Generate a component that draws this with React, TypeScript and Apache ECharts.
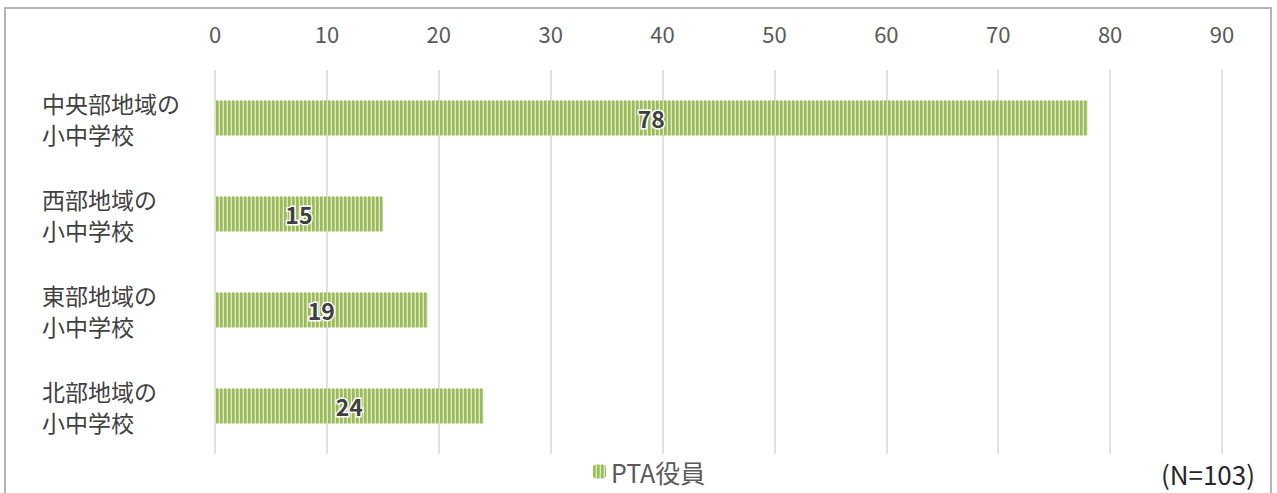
import React, { useEffect, useRef } from "react";
import * as echarts from "echarts";

const categories = ["中央部地域の\n小中学校", "西部地域の\n小中学校", "東部地域の\n小中学校", "北部地域の\n小中学校"];
const seriesName = "PTA役員";
const values = [78, 15, 19, 24];
const xTicks = { min: 0, max: 90, interval: 10 };
const noteText = "(N=103)";

const FONT = "'Noto Sans CJK JP', 'Noto Sans', sans-serif";

function makePattern() {
  const c = document.createElement("canvas");
  c.width = 4;
  c.height = 4;
  const ctx = c.getContext("2d")!;
  ctx.fillStyle = "#dde8c6";
  ctx.fillRect(0, 0, 4, 4);
  ctx.fillStyle = "#9bbb59";
  ctx.fillRect(0, 0, 2, 4);
  ctx.fillStyle = "#b3cc80";
  ctx.fillRect(2, 0, 1, 4);
  return { image: c, repeat: "repeat" as const, imageWidth: 4, imageHeight: 4 };
}

export default function App() {
  const ref = useRef<HTMLDivElement>(null);
  useEffect(() => {
    if (!ref.current) return;
    const chart = echarts.init(ref.current, null, { renderer: "svg" });
    const pattern = makePattern();
    chart.setOption({
      animation: false,
      textStyle: { fontFamily: FONT },
      grid: { left: 215, right: 55, top: 70, bottom: 39, containLabel: false },
      xAxis: {
        type: "value",
        position: "top",
        min: xTicks.min,
        max: xTicks.max,
        interval: xTicks.interval,
        axisLine: { show: false },
        axisTick: { show: false },
        axisLabel: { color: "#595959", fontSize: 22, margin: 26, fontFamily: FONT },
        splitLine: { show: true, lineStyle: { color: "#d9d9d9", width: 1.5 } },
      },
      yAxis: {
        type: "category",
        inverse: true,
        data: categories,
        axisLine: { show: false },
        axisTick: { show: false },
        axisLabel: {
          color: "#404040",
          fontSize: 23,
          lineHeight: 31,
          align: "left",
          margin: 173,
          fontFamily: FONT,
        },
      },
      legend: {
        bottom: 4,
        left: 588,
        itemWidth: 13,
        itemHeight: 14,
        itemGap: 5,
        textStyle: { color: "#595959", fontSize: 25, fontFamily: FONT },
        data: [seriesName],
      },
      series: [
        {
          name: seriesName,
          type: "bar",
          data: values,
          barWidth: 35,
          itemStyle: { color: pattern },
          label: {
            show: true,
            position: "inside",
            color: "#404040",
            fontSize: 23,
            fontWeight: "bold",
            textBorderColor: "#ffffff",
            textBorderWidth: 3,
            fontFamily: FONT,
          },
        },
      ],
      graphic: [
        {
          type: "rect",
          shape: { x: 5, y: 8, width: 1266, height: 500 },
          style: { fill: "none", stroke: "#b4b4b4", lineWidth: 2 },
          silent: true,
        },
        {
          type: "text",
          right: 22,
          top: 460,
          style: { text: noteText, fill: "#262626", fontSize: 26, fontFamily: FONT },
        },
      ],
    });
    return () => chart.dispose();
  }, []);
  return (
    <div
      ref={ref}
      style={{ position: "fixed", left: 0, top: 0, width: 1277, height: 493, background: "#fff" }}
    />
  );
}
